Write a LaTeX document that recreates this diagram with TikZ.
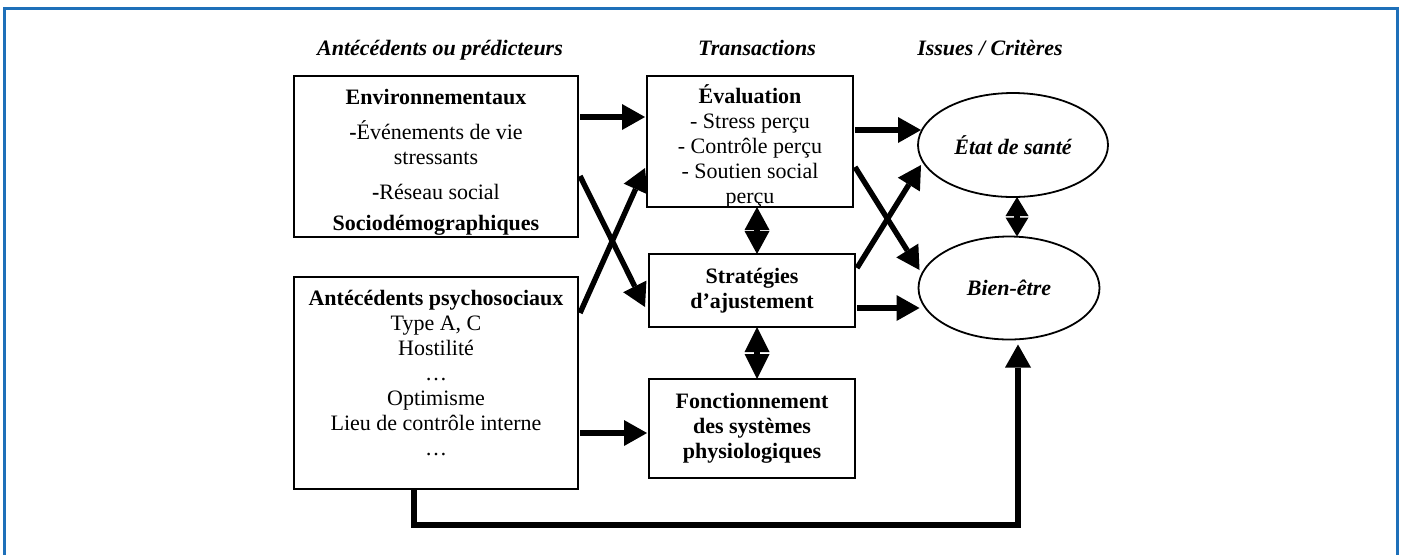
\documentclass[tikz,border=0pt]{standalone}
\usepackage{fontspec}
\setmainfont{Liberation Serif}
\usetikzlibrary{arrows.meta,shapes.geometric}
\definecolor{frameblue}{RGB}{30,112,185}
\begin{document}
\begin{tikzpicture}[x=0.5pt,y=-0.5pt,
  txt/.style={font=\fontsize{11}{12.5}\selectfont, align=center, inner sep=0pt},
  box/.style={txt, draw, line width=1pt, outer sep=0pt},
  ell/.style={txt, draw, ellipse, line width=0.9pt, outer sep=0pt, font=\fontsize{11}{12.5}\selectfont\bfseries\itshape},
  hdr/.style={font=\fontsize{11}{12.5}\selectfont\bfseries\itshape, inner sep=0pt, anchor=base},
  arr/.style={line width=2.7pt, -{Triangle[length=11.5pt,width=13pt,line width=0pt]}},
  dbl/.style={line width=2.7pt, {Triangle[length=#1,width=12.5pt,line width=0pt]}-{Triangle[length=#1,width=12.5pt,line width=0pt]}}
]
\useasboundingbox (0,0) rectangle (1401,554);
\draw[frameblue, line width=1.5pt] (4,8.5) rectangle (1397.5,562);

% headers
\node[hdr] (h1) at (440,55) {Antécédents ou prédicteurs};
\node[hdr] (h2) at (757,55) {Transactions};
\node[hdr] (h3) at (990,55) {Issues / Critères};

% boxes
\node[box, minimum width=142pt, minimum height=80.5pt] (env) at (436,156.5)
  {\mbox{}\\[0.75pt]\textbf{Environnementaux}\\[5pt]\textbf{-}Événements de vie\\stressants\\[5pt]\textbf{-}Réseau social\\[3pt]\textbf{Sociodémographiques}};
\node[box, minimum width=142pt, minimum height=106pt] (psycho) at (436,383)
  {\textbf{Antécédents psychosociaux}\\Type A, C\\Hostilité\\…\\Optimisme\\Lieu de contrôle interne\\…\\[-2pt]\mbox{}};
\node[box, inner ysep=-5pt, minimum width=103pt, minimum height=65.5pt] (eval) at (750,141.5)
  {\mbox{}\\[2pt]\textbf{Évaluation}\\- Stress perçu\\- Contrôle perçu\\- Soutien social\\perçu};
\node[box, font=\fontsize{11}{12.5}\selectfont\bfseries, minimum width=103pt, minimum height=36.5pt] (strat) at (752,290.5)
  {Stratégies\\d’ajustement};
\node[box, font=\fontsize{11}{12.5}\selectfont\bfseries, minimum width=103pt, minimum height=49.5pt] (fonct) at (752,428.5)
  {Fonctionnement\\des systèmes\\physiologiques};

% ellipses
\node[ell, minimum width=95pt, minimum height=52pt] (etat) at (1013,145) {État de santé};
\node[ell, minimum width=90.5pt, minimum height=51.5pt] (bien) at (1009,288) {Bien-être};

% arrows
\draw[arr] ([shift={(2,41)}]env.north east) -- ([shift={(-2,41)}]eval.north west);
\draw[arr] ([shift={(2,100)}]env.north east) -- ([shift={(-4,53)}]strat.north west);
\draw[arr] ([shift={(2,36)}]psycho.north east) -- ([shift={(-2,92)}]eval.north west);
\draw[arr] ([shift={(2,156)}]psycho.north east) -- ([shift={(-2,54)}]fonct.north west);

\draw[dbl=11.5pt] ([shift={(7,0)}]eval.south) -- ([shift={(5,0)}]strat.north);
\draw[dbl=12.5pt] ([shift={(5,0)}]strat.south) -- ([shift={(5,0)}]fonct.north);

\draw[arr] ([shift={(2,54)}]eval.north east) -- ([shift={(3,-15)}]etat.west);
\draw[arr] ([shift={(2,91)}]eval.north east) -- ([shift={(1,-18)}]bien.west);
\draw[arr] ([shift={(2,14)}]strat.north east) -- ([shift={(3,20)}]etat.west);
\draw[arr] ([shift={(2,54)}]strat.north east) -- ([shift={(1,20)}]bien.west);

\draw[line width=2.7pt, {Triangle[length=9.5pt,width=11.5pt,line width=0pt]}-{Triangle[length=9.5pt,width=11.5pt,line width=0pt]}]
  ([shift={(4,0)}]etat.south) -- ([shift={(8,0)}]bien.north);

\draw[arr] ([shift={(-22,0)}]psycho.south) -- ++(0,36) -| ([shift={(9,5)}]bien.south);
\end{tikzpicture}
\end{document}
